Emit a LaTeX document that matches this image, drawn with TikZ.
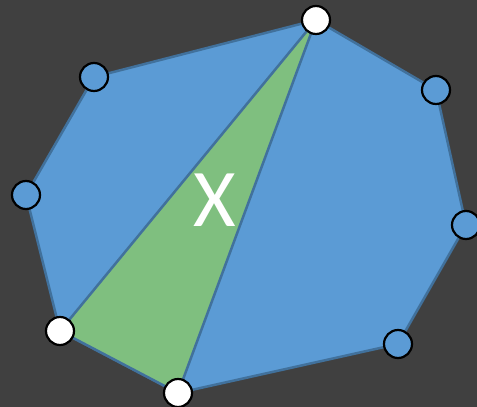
\documentclass[tikz,border=0pt]{standalone}
\usepackage{fontspec}
\setmainfont{Carlito}
\usetikzlibrary{calc}
\definecolor{bgdark}{HTML}{404040}
\definecolor{polyblue}{HTML}{5B9BD5}
\definecolor{edgeblue}{HTML}{41719C}
\definecolor{trigreen}{HTML}{7FBF7F}
\tikzset{
    vtx/.style={circle, draw=black, line width=2.2pt, minimum size=28pt, inner sep=0pt},
    vfree/.style={vtx, fill=polyblue},
    vtri/.style={vtx, fill=white}
}

\begin{document}
\begin{tikzpicture}[x=1pt, y=-1pt]
    \fill[bgdark] (0,0) rectangle (477,407);
    \useasboundingbox (0,0) rectangle (477,407);
    \coordinate (P1) at (316,20);
    \coordinate (P2) at (436,90);
    \coordinate (P3) at (466,225);
    \coordinate (P4) at (398,344);
    \coordinate (P5) at (178,393);
    \coordinate (P6) at (60,331);
    \coordinate (P7) at (26,195);
    \coordinate (P8) at (94,77);
    \filldraw[fill=polyblue, draw=edgeblue, line width=2.5pt, line join=round]
        (P1) -- (P2) -- (P3) -- (P4) -- (P5) -- (P6) -- (P7) -- (P8) -- cycle;
    \filldraw[fill=trigreen, draw=edgeblue, line width=2.5pt, line join=round]
        (P1) -- (P6) -- (P5) -- cycle;
    \node[text=white, font=\fontsize{82}{82}\selectfont] (lblX) at (215,200) {X};
    \foreach \p in {P2,P3,P4,P7,P8} {\node[vfree] (c\p) at (\p) {};}
    \foreach \p in {P1,P5,P6} {\node[vtri] (c\p) at (\p) {};}
\end{tikzpicture}
\end{document}
